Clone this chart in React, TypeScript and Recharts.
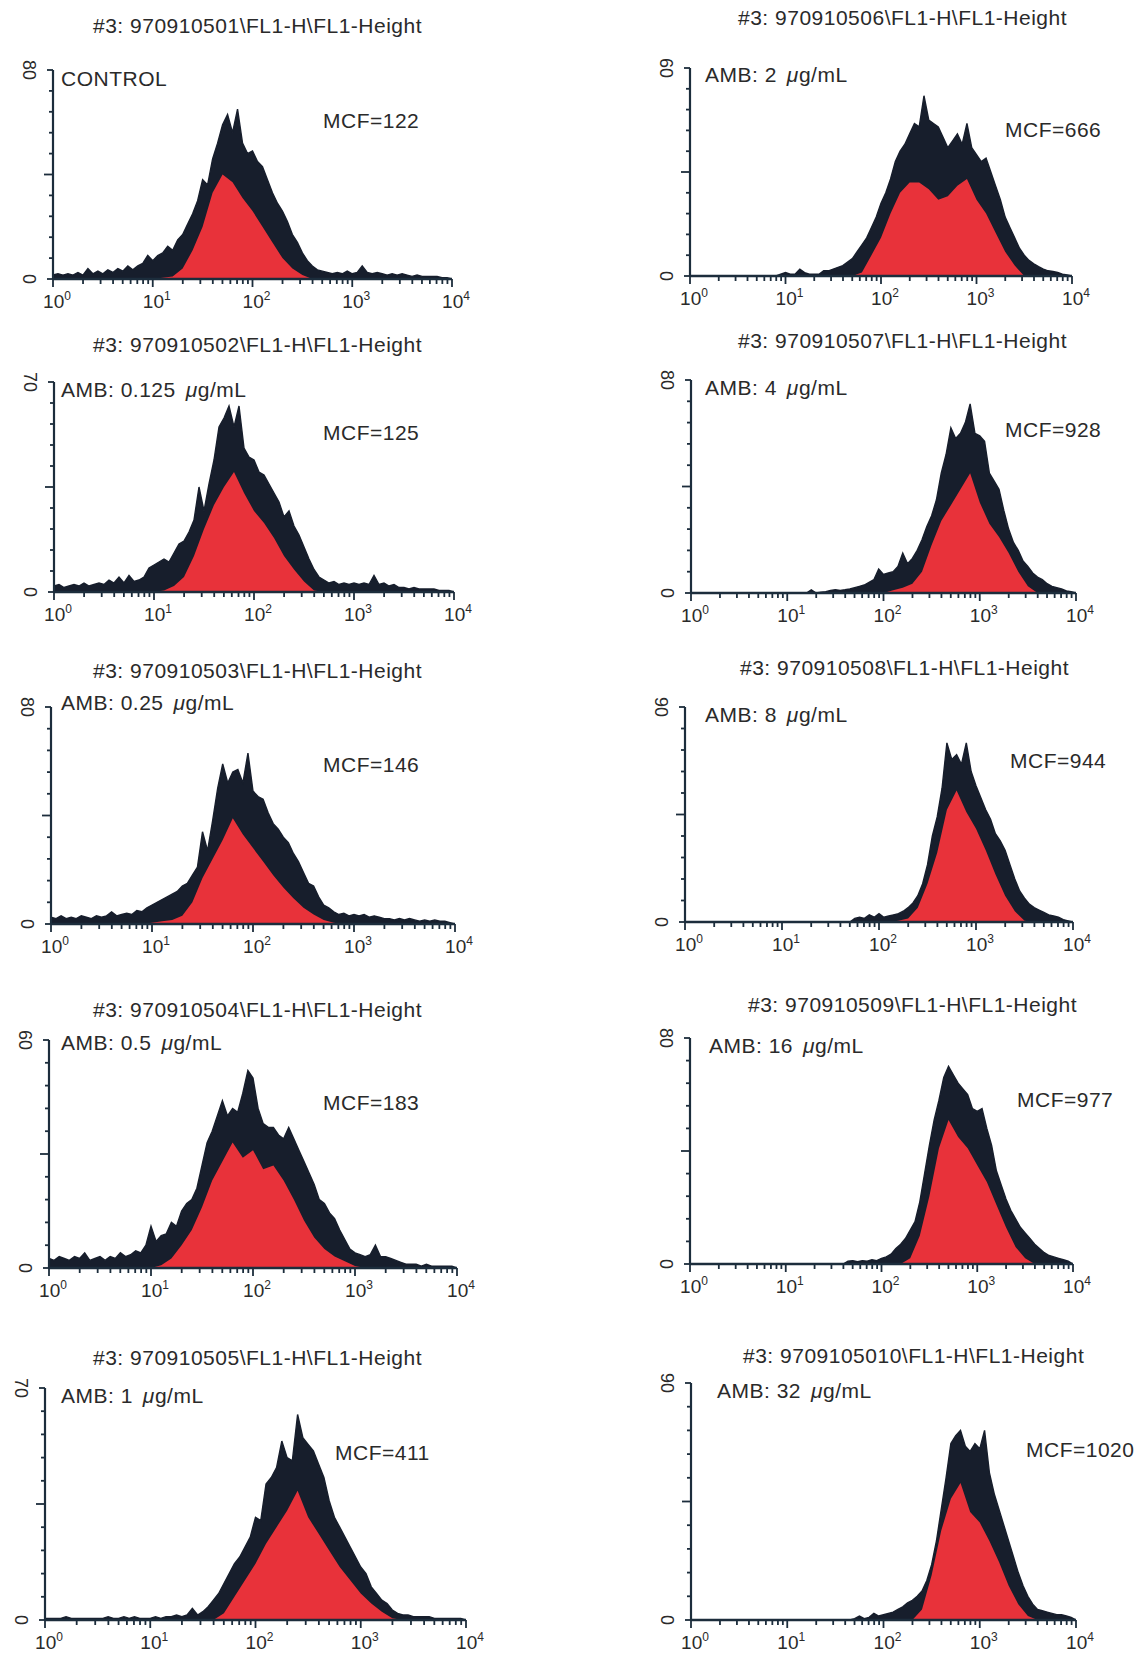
import { ComposedChart, Area, XAxis, YAxis } from 'recharts'

const DARK = '#171e2c'
const RED = '#e8323a'
const AXIS = '#1c2d3c'
const INK = '#2a2a2a'
const FONT = '"Liberation Sans", Arial, Helvetica, sans-serif'

// FL1-Height channels, log10 of fluorescence, 0.05 decade apart
const channels = [
  0.0, 0.05, 0.1, 0.15, 0.2, 0.25, 0.3, 0.35, 0.4, 0.45,
  0.5, 0.55, 0.6, 0.65, 0.7, 0.75, 0.8, 0.85, 0.9, 0.95,
  1.0, 1.05, 1.1, 1.15, 1.2, 1.25, 1.3, 1.35, 1.4, 1.45,
  1.5, 1.55, 1.6, 1.65, 1.7, 1.75, 1.8, 1.85, 1.9, 1.95,
  2.0, 2.05, 2.1, 2.15, 2.2, 2.25, 2.3, 2.35, 2.4, 2.45,
  2.5, 2.55, 2.6, 2.65, 2.7, 2.75, 2.8, 2.85, 2.9, 2.95,
  3.0, 3.05, 3.1, 3.15, 3.2, 3.25, 3.3, 3.35, 3.4, 3.45,
  3.5, 3.55, 3.6, 3.65, 3.7, 3.75, 3.8, 3.85, 3.9, 3.95,
  4.0,
]

const runIds = [
  '970910501', '970910502', '970910503', '970910504', '970910505',
  '970910506', '970910507', '970910508', '970910509', '9709105010',
]
const doses = ['', '0.125', '0.25', '0.5', '1', '2', '4', '8', '16', '32']
const mcfValues = [122, 125, 146, 183, 411, 666, 928, 944, 977, 1020]
const yMaxValues = [80, 70, 80, 60, 70, 60, 80, 90, 80, 90]

// outer (black) histogram, one value per channel
const upper01 = [
  1.5, 2, 1.5, 2, 1.5, 2.5, 1.5, 4, 2, 3,
  2, 3.5, 2.5, 4, 3, 5, 3.5, 5, 6, 9,
  7, 9, 10, 12.5, 11, 15, 17, 21, 25, 30,
  38, 36, 46, 52, 59, 63, 56, 65, 52, 48,
  49, 45, 43, 38, 33, 29, 26, 22, 17, 14,
  10, 7, 5, 3.5, 3, 2.5, 2, 2.5, 2, 3,
  2, 2.5, 5, 2.5, 2, 2.5, 2, 1.5, 2, 1.5,
  2, 1.5, 1, 1.5, 1, 1, 1, 1, 0.5, 0.5,
  0,
]
const upper02 = [
  2, 2.5, 1.5, 2, 2.5, 2, 3, 2, 2.5, 3,
  2.5, 4, 3, 5, 3, 5.5, 3.5, 4, 5, 8,
  9, 10, 11, 10, 13, 16, 17, 20, 24, 35,
  27, 36, 44, 55, 58, 62, 55, 62, 48, 45,
  44, 40, 39, 36, 33, 30, 25, 27, 22, 19,
  15, 11, 7.5, 5, 4, 3, 3.5, 2.5, 3, 2.5,
  3, 2.5, 3, 2.5, 5.5, 2.5, 3, 2, 2.5, 1.5,
  1.5, 1, 1.5, 1, 1, 1, 1, 0.5, 0.5, 0.5,
  0,
]
const upper03 = [
  2.5, 2, 3, 2, 2.5, 2, 3, 2.5, 2, 3,
  2.5, 3, 4.5, 3, 3.5, 4, 3.5, 5, 4.5, 6,
  7, 8, 9, 10, 11, 12, 14, 15, 18, 21,
  34, 27, 38, 50, 59, 52, 56, 57, 52, 63,
  49, 47, 46, 41, 37, 35, 32, 30, 26, 23,
  19, 15, 14, 10, 7, 6, 4.5, 3.5, 4, 3,
  3.5, 3, 3.5, 2.5, 3, 2.5, 2, 2, 1.5, 2,
  1.5, 2, 1.5, 1, 1.5, 1, 1.5, 1, 1, 0.5,
  0,
]
const upper04 = [
  2.5, 2, 3, 2.5, 2, 3, 2.5, 4, 2, 2.5,
  3, 2, 3, 2.5, 4, 3, 3.5, 4.5, 4, 6,
  11, 7, 8.5, 9, 12, 11, 15, 17, 18, 21,
  27, 33, 36, 40, 44, 40, 42, 41, 46, 52,
  50, 42, 38, 37, 37, 35, 34, 37, 34, 31,
  28, 25, 22, 18, 17, 14.5, 13, 10, 7.5, 5,
  4, 3.5, 3, 3.5, 6, 3, 3, 2.5, 2, 1.5,
  1, 1, 1, 0.5, 1, 0.5, 0.5, 0.5, 0.5, 0.5,
  0,
]
const upper05 = [
  0.5, 0.5, 0.5, 0.5, 1, 0.5, 0.5, 0.5, 0.5, 0.5,
  0.5, 0.5, 1, 0.5, 0.5, 1, 0.5, 1, 0.5, 0.5,
  0.5, 1, 0.5, 1, 1, 1.5, 1, 1.5, 3.5, 1.5,
  2.5, 4, 6, 8, 11, 14, 17, 19, 22, 25,
  31, 30, 41, 43, 46, 54, 49, 48, 62, 55,
  53, 51, 47, 43, 36, 31, 28, 25, 22, 19,
  16, 14, 10, 8, 6, 5, 3, 2, 1.5, 1.5,
  1, 1, 1, 1, 0.5, 0.5, 0.5, 0.5, 0.5, 0.5,
  0,
]
const upper06 = [
  0, 0, 0, 0, 0, 0, 0, 0, 0, 0,
  0, 0, 0, 0, 0, 0, 0, 0, 0, 0.5,
  1, 0.5, 0.5, 2, 1, 0.5, 0.5, 0.5, 1.5, 1.5,
  2, 2.5, 3, 4, 5, 7, 9, 11, 14, 17,
  21, 24, 28, 33, 36, 38, 41, 44, 43, 52,
  45, 44, 43, 40, 37, 39, 41, 38, 44, 37,
  35, 33, 34, 30, 26, 22, 17, 14, 11, 8,
  6, 4.5, 3.5, 2.7, 2, 1.5, 1.3, 1, 0.5, 0.3,
  0,
]
const upper07 = [
  0, 0, 0, 0, 0, 0, 0, 0, 0, 0,
  0, 0, 0, 0, 0, 0, 0, 0, 0, 0,
  0, 0, 0, 0, 0, 1.2, 0, 0.3, 0.5, 1,
  1.2, 1, 1.2, 1.5, 2, 2.5, 3, 4, 5, 9,
  7, 7.5, 8, 10, 15, 11, 13, 16, 20, 25,
  29, 35, 45, 52, 62, 58, 60, 64, 71, 60,
  59, 57, 45, 42, 39, 31, 24, 19, 16, 12,
  10, 7.5, 6, 5, 3.5, 2.5, 2, 1.5, 0.8, 0.5,
  0,
]
const upper08 = [
  0, 0, 0, 0, 0, 0, 0, 0, 0, 0,
  0, 0, 0, 0, 0, 0, 0, 0, 0, 0,
  0, 0, 0, 0, 0, 0, 0, 0, 0, 0,
  0, 0, 0, 0, 0, 1.5, 2, 1.5, 3, 2,
  3.5, 2, 2.5, 3, 3.5, 4.5, 6, 8, 11, 16,
  24, 36, 44, 56, 75, 68, 70, 66, 75, 63,
  57, 52, 47, 43, 37, 34, 30, 24, 18, 13,
  10, 7.5, 6, 5, 4, 3, 2.5, 2, 1, 0.5,
  0,
]
const upper09 = [
  0, 0, 0, 0, 0, 0, 0, 0, 0, 0,
  0, 0, 0, 0, 0, 0, 0, 0, 0, 0,
  0, 0, 0, 0, 0, 0, 0, 0, 0, 0,
  0, 0, 0, 1, 1.2, 0.8, 1.2, 1, 1.5, 1.2,
  2, 2.5, 3.5, 5.5, 7, 9, 12, 15, 22, 32,
  42, 51, 58, 66, 70, 67, 64, 62, 60, 55,
  54, 55, 48, 42, 33, 28, 23, 19, 16, 13,
  11, 9, 7, 5.5, 4, 3, 2.5, 2, 1.5, 1,
  0,
]
const upper10 = [
  0, 0, 0, 0, 0, 0, 0, 0, 0, 0,
  0, 0, 0, 0, 0, 0, 0, 0, 0, 0,
  0, 0, 0, 0, 0, 0, 0, 0, 0, 0,
  0, 0, 0, 0, 0.5, 1.5, 0.5, 1, 2.5, 1.5,
  2, 2.5, 3, 4, 5, 6.5, 7.5, 9, 11, 15,
  21, 30, 42, 54, 67, 70, 72, 66, 64, 67,
  65, 72, 56, 48, 42, 36, 30, 24, 18, 13,
  9, 6, 4, 3.5, 3, 2.5, 2, 2, 1.5, 1,
  0,
]

// inner (red) histogram, every second channel (0.1 decade)
const red01 = [
  0, 0, 0, 0, 0, 0, 0, 0, 0, 0,
  0, 0.5, 1, 4, 11, 20, 33, 40, 37, 31,
  26, 20, 14, 8, 4, 1.5, 0, 0, 0, 0,
  0, 0, 0, 0, 0, 0, 0, 0, 0, 0,
  0,
]
const red02 = [
  0, 0, 0, 0, 0, 0, 0, 0, 0, 0,
  0, 0.5, 2, 5, 12, 21, 29, 35, 40, 33,
  27, 23, 18, 12, 7.5, 3.5, 0.5, 0, 0, 0,
  0, 0, 0, 0, 0, 0, 0, 0, 0, 0,
  0,
]
const red03 = [
  0, 0, 0, 0, 0, 0, 0, 0, 0, 0,
  0.5, 1, 1.5, 3, 8, 17, 24, 31, 39, 33,
  28, 23, 18, 13.5, 9.5, 6, 3.5, 1.5, 0.5, 0,
  0, 0, 0, 0, 0, 0, 0, 0, 0, 0,
  0,
]
const red04 = [
  0, 0, 0, 0, 0, 0, 0, 0, 0, 0,
  0, 0.7, 2.5, 6, 10, 16, 23, 28, 33, 29,
  31, 26, 27, 23, 18, 12.5, 8, 5, 3, 1.8,
  0.5, 0, 0, 0, 0, 0, 0, 0, 0, 0,
  0,
]
const red05 = [
  0, 0, 0, 0, 0, 0, 0, 0, 0, 0,
  0, 0, 0, 0, 0, 0, 0, 2, 7, 12,
  17, 23, 28, 33, 39, 31, 26, 21, 16, 12,
  8, 5, 2.5, 0.5, 0, 0, 0, 0, 0, 0,
  0,
]
const red06 = [
  0, 0, 0, 0, 0, 0, 0, 0, 0, 0,
  0, 0, 0, 0, 0, 0, 0, 0, 1, 6,
  11, 18, 24, 27, 27, 25, 22, 23, 26, 28,
  22, 18, 12.5, 7, 3, 0, 0, 0, 0, 0,
  0,
]
const red07 = [
  0, 0, 0, 0, 0, 0, 0, 0, 0, 0,
  0, 0, 0, 0, 0, 0, 0, 0, 0, 0,
  0, 1, 2, 3.5, 8, 18, 27, 33, 39, 45,
  34, 26, 21, 15, 8, 2.5, 0, 0, 0, 0,
  0,
]
const red08 = [
  0, 0, 0, 0, 0, 0, 0, 0, 0, 0,
  0, 0, 0, 0, 0, 0, 0, 0, 0, 0,
  0, 0, 0.5, 1.5, 6, 16, 29, 47, 55, 46,
  39, 30, 20, 11, 4.5, 0.5, 0, 0, 0, 0,
  0,
]
const red09 = [
  0, 0, 0, 0, 0, 0, 0, 0, 0, 0,
  0, 0, 0, 0, 0, 0, 0, 0, 0, 0,
  0, 0, 0, 2, 10, 24, 41, 51, 45, 41,
  35, 29, 21, 13, 6, 2, 0, 0, 0, 0,
  0,
]
const red10 = [
  0, 0, 0, 0, 0, 0, 0, 0, 0, 0,
  0, 0, 0, 0, 0, 0, 0, 0, 0, 0,
  0, 0, 0, 0, 4, 17, 34, 46, 52, 41,
  37, 30, 22, 13, 6, 1.5, 0, 0, 0, 0,
  0,
]

const uppers = [upper01, upper02, upper03, upper04, upper05, upper06, upper07, upper08, upper09, upper10]
const reds = [red01, red02, red03, red04, red05, red06, red07, red08, red09, red10]

// where each panel sits on the page (plot box + text anchors)
const layout = [
  { x0: 53, x1: 452, yTop: 70, yZero: 279, tx: 93, ty: 33, nx: 61, ny: 86, mx: 323, my: 128 },
  { x0: 54, x1: 454, yTop: 382, yZero: 592, tx: 93, ty: 352, nx: 61, ny: 397, mx: 323, my: 440 },
  { x0: 51, x1: 455, yTop: 707, yZero: 924, tx: 93, ty: 678, nx: 61, ny: 710, mx: 323, my: 772 },
  { x0: 49, x1: 457, yTop: 1040, yZero: 1268, tx: 93, ty: 1017, nx: 61, ny: 1050, mx: 323, my: 1110 },
  { x0: 45, x1: 466, yTop: 1388, yZero: 1620, tx: 93, ty: 1365, nx: 61, ny: 1403, mx: 335, my: 1460 },
  { x0: 690, x1: 1072, yTop: 68, yZero: 276, tx: 738, ty: 25, nx: 705, ny: 82, mx: 1005, my: 137 },
  { x0: 691, x1: 1076, yTop: 380, yZero: 593, tx: 738, ty: 348, nx: 705, ny: 395, mx: 1005, my: 437 },
  { x0: 685, x1: 1073, yTop: 707, yZero: 922, tx: 740, ty: 675, nx: 705, ny: 722, mx: 1010, my: 768 },
  { x0: 690, x1: 1073, yTop: 1038, yZero: 1264, tx: 748, ty: 1012, nx: 709, ny: 1053, mx: 1017, my: 1107 },
  { x0: 691, x1: 1076, yTop: 1383, yZero: 1620, tx: 743, ty: 1363, nx: 717, ny: 1398, mx: 1026, my: 1457 },
]

const xTicks: number[] = []
for (let d = 0; d < 4; d++) {
  for (let m = 1; m < 10; m++) xTicks.push(d + Math.log10(m))
}
xTicks.push(4)

const AXIS_W = 45
const TOP_PAD = 22
const RIGHT_PAD = 32
const X_H = 40

function XTick(props: any) {
  const { x, y, payload } = props
  const v = payload.value as number
  const major = Math.abs(v - Math.round(v)) < 1e-6
  return (
    <g>
      <line x1={x} x2={x} y1={y} y2={y + (major ? 8 : 5)} stroke={AXIS} strokeWidth={1.8} />
      {major && (
        <text x={x + 4} y={y + 29} textAnchor="middle" fill={INK} fontSize={19} fontFamily={FONT}>
          10
          <tspan dy={-8} fontSize={12}>
            {Math.round(v)}
          </tspan>
        </text>
      )}
    </g>
  )
}

const makeYTick = (ymax: number) => (props: any) => {
  const { x, y, payload } = props
  const v = payload.value as number
  const end = v === 0 || v === ymax
  const mid = Math.abs(v - ymax / 2) < 1e-6
  const len = end ? 6 : mid ? 9 : 4
  const lx = x - 24
  return (
    <g>
      <line x1={x - len} x2={x} y1={y} y2={y} stroke={AXIS} strokeWidth={1.8} />
      {end && (
        <text
          x={lx}
          y={y}
          transform={`rotate(90 ${lx} ${y})`}
          textAnchor="middle"
          dominantBaseline="central"
          fill={INK}
          fontSize={18}
          fontFamily={FONT}
        >
          {v}
        </text>
      )}
    </g>
  )
}

function Histogram({ idx }: { idx: number }) {
  const box = layout[idx]
  const ymax = yMaxValues[idx]
  const up = uppers[idx]
  const rd = reds[idx]
  const rows = channels.map((c, i) => ({
    c,
    upper: up[i],
    red: i % 2 === 0 ? rd[i / 2] : null,
  }))
  const yTicks = [0, 1, 2, 3, 4, 5, 6, 7, 8, 9, 10].map((k) => (ymax * k) / 10)
  const w = box.x1 - box.x0 + AXIS_W + RIGHT_PAD
  const h = box.yZero - box.yTop + TOP_PAD + X_H

  return (
    <div style={{ position: 'absolute', left: box.x0 - AXIS_W, top: box.yTop - TOP_PAD }}>
      <ComposedChart
        width={w}
        height={h}
        data={rows}
        margin={{ top: TOP_PAD, right: RIGHT_PAD, bottom: 0, left: 0 }}
        style={{ overflow: 'visible' }}
      >
        <XAxis
          dataKey="c"
          type="number"
          domain={[0, 4]}
          ticks={xTicks}
          interval={0}
          tickSize={0}
          tickMargin={0}
          height={X_H}
          allowDataOverflow
          axisLine={{ stroke: AXIS, strokeWidth: 2.6 }}
          tickLine={false}
          tick={XTick}
        />
        <YAxis
          type="number"
          domain={[0, ymax]}
          ticks={yTicks}
          interval={0}
          tickSize={0}
          tickMargin={0}
          width={AXIS_W}
          allowDataOverflow
          axisLine={{ stroke: AXIS, strokeWidth: 2.2 }}
          tickLine={false}
          tick={makeYTick(ymax)}
        />
        <Area
          type="linear"
          dataKey="upper"
          stroke={DARK}
          strokeWidth={1.4}
          fill={DARK}
          fillOpacity={1}
          dot={false}
          activeDot={false}
          isAnimationActive={false}
        />
        <Area
          type="linear"
          dataKey="red"
          stroke="none"
          fill={RED}
          fillOpacity={1}
          connectNulls
          dot={false}
          activeDot={false}
          isAnimationActive={false}
        />
      </ComposedChart>
    </div>
  )
}

export default function App() {
  const textStyle = { fontFamily: FONT, fontSize: 21, letterSpacing: 0.5, fill: INK }
  return (
    <div
      style={{
        position: 'absolute',
        left: 0,
        top: 0,
        width: 1143,
        height: 1654,
        background: '#fff',
        overflow: 'hidden',
      }}
    >
      {layout.map((_, i) => (
        <Histogram key={i} idx={i} />
      ))}
      <svg width={1143} height={1654} style={{ position: 'absolute', left: 0, top: 0, pointerEvents: 'none' }}>
        {layout.map((b, i) => (
          <g key={i}>
            <text x={b.tx} y={b.ty} {...textStyle}>
              {`#3: ${runIds[i]}\\FL1-H\\FL1-Height`}
            </text>
            <text x={b.nx} y={b.ny} {...textStyle}>
              {doses[i] === '' ? (
                'CONTROL'
              ) : (
                <>
                  {`AMB: ${doses[i]}`}
                  <tspan dx={10} fontStyle="italic">
                    μ
                  </tspan>
                  g/mL
                </>
              )}
            </text>
            <text x={b.mx} y={b.my} {...textStyle}>
              {`MCF=${mcfValues[i]}`}
            </text>
          </g>
        ))}
      </svg>
    </div>
  )
}
